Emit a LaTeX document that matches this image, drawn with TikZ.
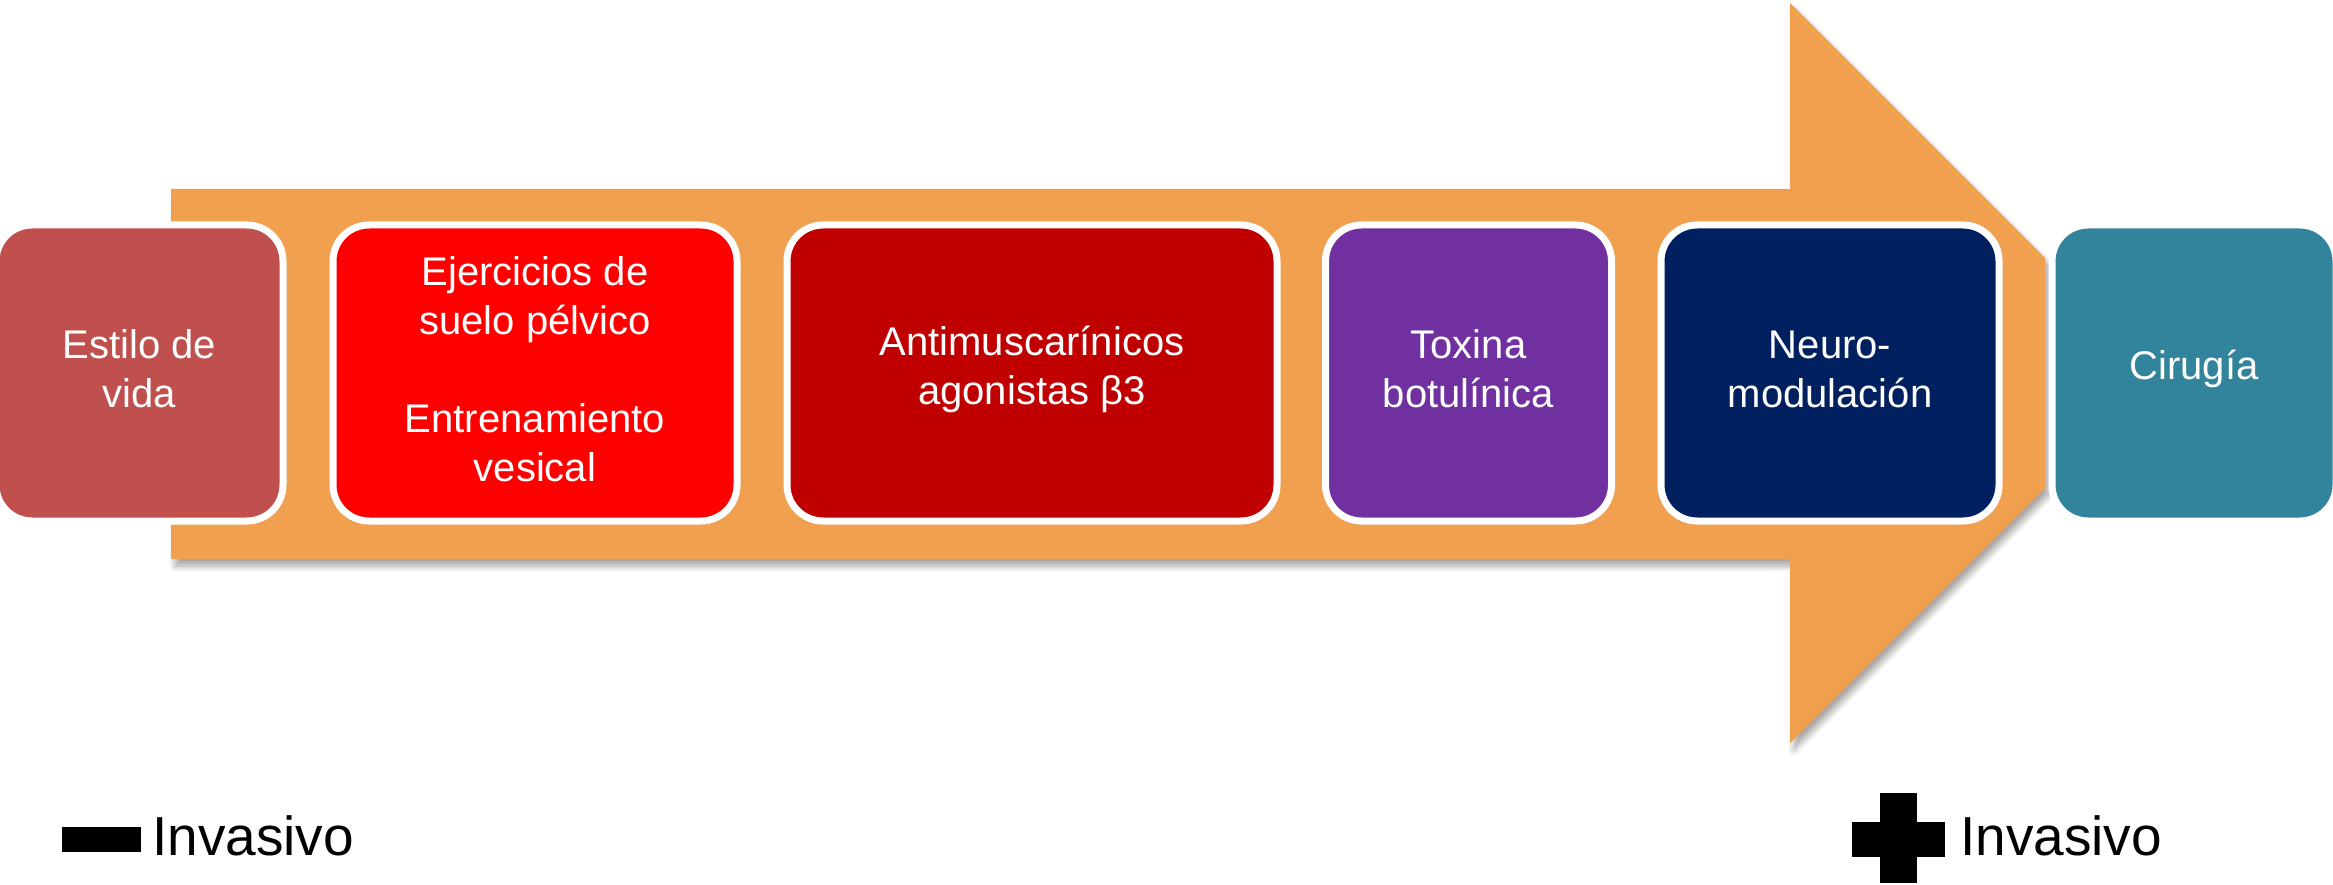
\documentclass[tikz,border=0pt]{standalone}
\usepackage{fontspec}
\setmainfont{Liberation Sans}
\usetikzlibrary{shadows.blur}
\definecolor{arroworange}{HTML}{F0A04F}
\definecolor{cA}{HTML}{C0504D}
\definecolor{cB}{HTML}{FF0000}
\definecolor{cC}{HTML}{C00000}
\definecolor{cD}{HTML}{7030A0}
\definecolor{cE}{HTML}{002060}
\definecolor{cF}{HTML}{31849B}
\tikzset{
  stepbox/.style={rectangle, rounded corners=36pt, draw=white, line width=7pt,
    minimum height=296pt, inner sep=0pt},
  steptext/.style={text=white, align=center, inner sep=0pt, yshift=4pt,
    font=\fontsize{40}{49}\selectfont},
  legendtext/.style={anchor=base west, inner sep=0pt, font=\fontsize{55}{60}\selectfont},
}
\begin{document}
\begin{tikzpicture}[x=1pt, y=-1pt]
\useasboundingbox (0,0) rectangle (2333,885);
% big arrow
\fill[arroworange, blur shadow={shadow xshift=4pt, shadow yshift=-7pt, shadow blur steps=8,
    shadow blur radius=6pt, shadow opacity=35}]
  (171,189) -- (1790,189) -- (1790,3) -- (2045,258) -- (2045,488)
  -- (1790,743) -- (1790,559) -- (171,559) -- cycle;
% boxes
\node[stepbox, fill=cA, minimum width=287pt] (b1) at (139.5,373) {};
\node[stepbox, fill=cB, minimum width=404pt] (b2) at (535,373) {};
\node[stepbox, fill=cC, minimum width=490pt] (b3) at (1032,373) {};
\node[stepbox, fill=cD, minimum width=286pt] (b4) at (1468.5,373) {};
\node[stepbox, fill=cE, minimum width=338pt] (b5) at (1830,373) {};
\node[stepbox, fill=cF, minimum width=284pt] (b6) at (2194,373) {};
\node[steptext] (t1) at (b1.center) {Estilo de\\vida};
\node[steptext] (t2) at (b2.center) {Ejercicios de\\suelo pélvico\\[49pt]Entrenamiento\\vesical};
\node[steptext] (t3) at (b3.center) {Antimuscarínicos\\agonistas β3};
\node[steptext] (t4) at (b4.center) {Toxina\\botulínica};
\node[steptext] (t5) at (b5.center) {Neuro-\\modulación};
\node[steptext] (t6) at (b6.center) {Cirugía};
% legend
\fill[black] (62,827) rectangle (141,852);
\node[legendtext] (lminus) at (152,855) {Invasivo};
\fill[black] (1880,793) rectangle (1917,883);
\fill[black] (1852,822) rectangle (1945,857);
\node[legendtext] (lplus) at (1960,855) {Invasivo};
\end{tikzpicture}
\end{document}
